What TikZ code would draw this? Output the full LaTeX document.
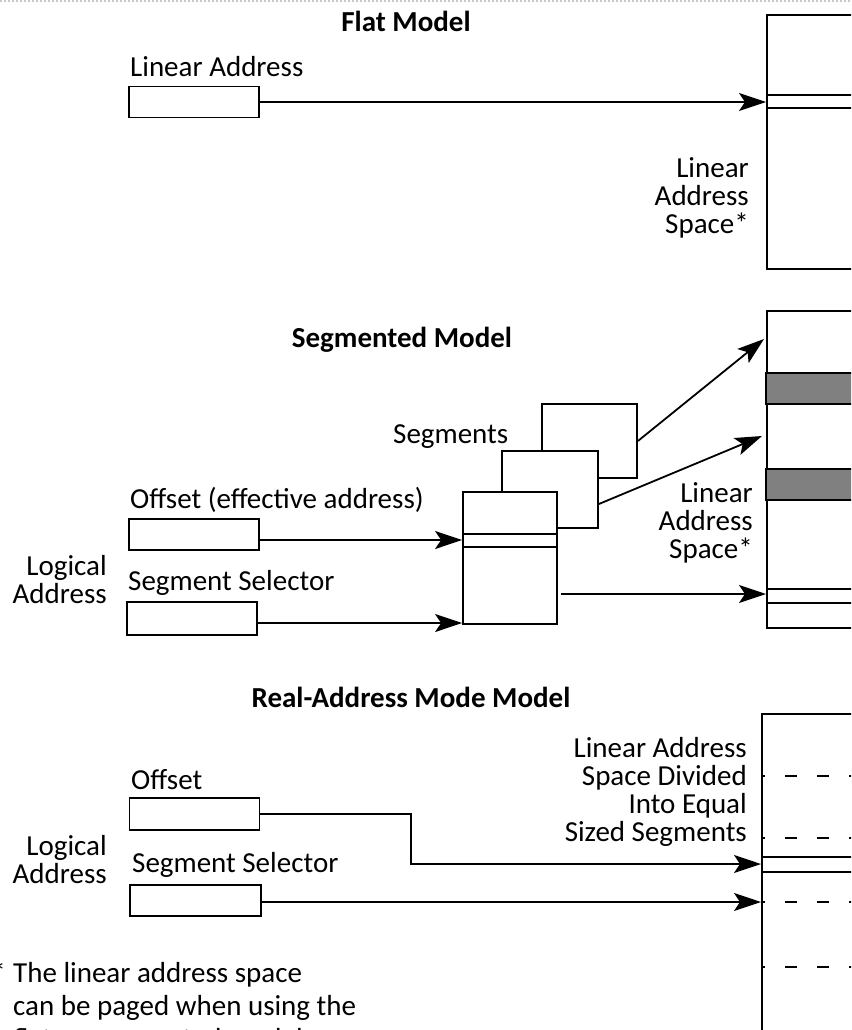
\documentclass[tikz,border=0pt]{standalone}
\usepackage{fontspec}
\setmainfont{Carlito}
\usepackage{xcolor}
\usetikzlibrary{arrows.meta,positioning}
\definecolor{segGrey}{HTML}{808080}
\definecolor{dotGrey}{HTML}{C8C8C8}

\begin{document}
\begin{tikzpicture}[x=1pt, y=-1pt,
  addr/.style={draw, line width=1.8pt, minimum width=130pt, minimum height=31pt, inner sep=0pt, fill=white},
  spc/.style={draw, line width=1.8pt, minimum width=140pt, inner sep=0pt, anchor=north west, fill=white},
  segbox/.style={draw, line width=1.8pt, inner sep=0pt, fill=white},
  lbl/.style={font=\fontsize{29}{28}\selectfont, inner sep=0pt, anchor=base west},
  rlbl/.style={font=\fontsize{29}{28}\selectfont, inner sep=0pt, align=right, anchor=north east},
  ttl/.style={font=\fontsize{29}{29}\selectfont\bfseries, inner sep=0pt, anchor=base},
  ptr/.style={line width=1.8pt, -{Stealth[length=27pt, width=18pt, inset=6pt]}},
  thin/.style={line width=1.8pt},
  gap/.style={line width=1.8pt, dash pattern=on 12pt off 20pt, dash phase=8pt}
]
\useasboundingbox (0,0) rectangle (851,1030);
\clip (0,0) rectangle (851,1030);
\draw[dotGrey, line width=2pt, dotted] (0,1) -- (851,1);
% Flat
\node[ttl] (flatttl) at (406,32) {Flat Model};
\node[lbl] (flatlbl) at (130,77) {Linear Address};
\node[addr] (flatla) at (194,102) {};
\node[spc, minimum height=254pt] (flatspc) at (766,14) {};
\draw[thin] (flatspc.west |- 0,95) -- (flatspc.east |- 0,95);
\draw[thin] (flatspc.west |- 0,108) -- (flatspc.east |- 0,108);
\draw[ptr] (flatla.east) -- (flatla.east -| flatspc.west);
\node[rlbl] (flatspclbl) at (749,157) {Linear\\Address\\Space*};
% Segmented
\node[ttl] (segttl) at (402,347) {Segmented Model};
\node[spc, minimum height=317pt] (segspc) at (766,310) {};
\fill[segGrey, draw=black, line width=1.8pt] (segspc.west |- 0,373) rectangle (segspc.east |- 0,404);
\fill[segGrey, draw=black, line width=1.8pt] (segspc.west |- 0,469) rectangle (segspc.east |- 0,500);
\draw[thin] (segspc.west |- 0,589) -- (segspc.east |- 0,589);
\draw[thin] (segspc.west |- 0,603) -- (segspc.east |- 0,603);
\node[rlbl] (segspclbl) at (753,482) {Linear\\Address\\Space*};
\node[segbox, minimum width=95pt, minimum height=74pt] (segback) at (589.5,441) {};
\node[segbox, minimum width=96pt, minimum height=77pt] (segmid) at (550,489.5) {};
\node[segbox, minimum width=94pt, minimum height=132pt] (segfront) at (510,558) {};
\draw[thin] (segfront.west |- 0,534) -- (segfront.east |- 0,534);
\draw[thin] (segfront.west |- 0,547) -- (segfront.east |- 0,547);
\node[lbl] (seglbl) at (393,443) {Segments};
\coordinate (segtopin) at (764,339);
\coordinate (segmidin) at (762,436);
\draw[ptr] (segback.east) -- (segtopin);
\draw[ptr] (segmid.east |- 0,504) -- (segmidin);
\draw[ptr] (561,594) -- (segspc.west |- 0,594);
\node[lbl] (segofflbl) at (130,508) {Offset (effective address)};
\node[addr] (segoff) at (194,534.5) {};
\node[lbl] (segsellbl) at (128,590) {Segment Selector};
\node[addr, minimum height=33pt] (segsel) at (192,618.5) {};
\draw[ptr] (segoff.east |- 0,540) -- (segfront.west |- 0,540);
\draw[ptr] (segsel.east |- 0,623) -- (segfront.west |- 0,623);
\node[rlbl] (seglog) at (107,555) {Logical\\Address};
% Real-address mode
\node[ttl] (realttl) at (411,707) {Real-Address Mode Model};
\node[spc, minimum height=340pt] (realspc) at (761,713) {};
\foreach \yy in {776,838,902,967}
  \draw[gap] (realspc.west |- 0,\yy) -- (realspc.east |- 0,\yy);
\draw[thin] (realspc.west |- 0,857) -- (realspc.east |- 0,857);
\draw[thin] (realspc.west |- 0,872) -- (realspc.east |- 0,872);
\node[rlbl] (realspclbl) at (747,737) {Linear Address\\Space Divided\\Into Equal\\Sized Segments};
\node[lbl] (realofflbl) at (131,789) {Offset};
\node[addr, minimum height=32pt] (realoff) at (194.5,814) {};
\node[lbl] (realsellbl) at (132,872) {Segment Selector};
\node[addr, minimum width=131pt] (realsel) at (195.5,900.5) {};
\coordinate (realbend) at (411,864);
\draw[ptr] (realoff.east) -| (realbend) -- (realbend -| realspc.west);
\draw[ptr] (realsel.east |- 0,902) -- (realspc.west |- 0,902);
\node[rlbl] (reallog) at (107,835) {Logical\\Address};
% footnote
\node[lbl, anchor=base east] (star) at (6,982) {*};
\node[lbl, font=\fontsize{29}{33}\selectfont, align=left, anchor=base west] (foot) at (13,1048) {The linear address space\\can be paged when using the\\flat or segmented model.};
\end{tikzpicture}
\end{document}
